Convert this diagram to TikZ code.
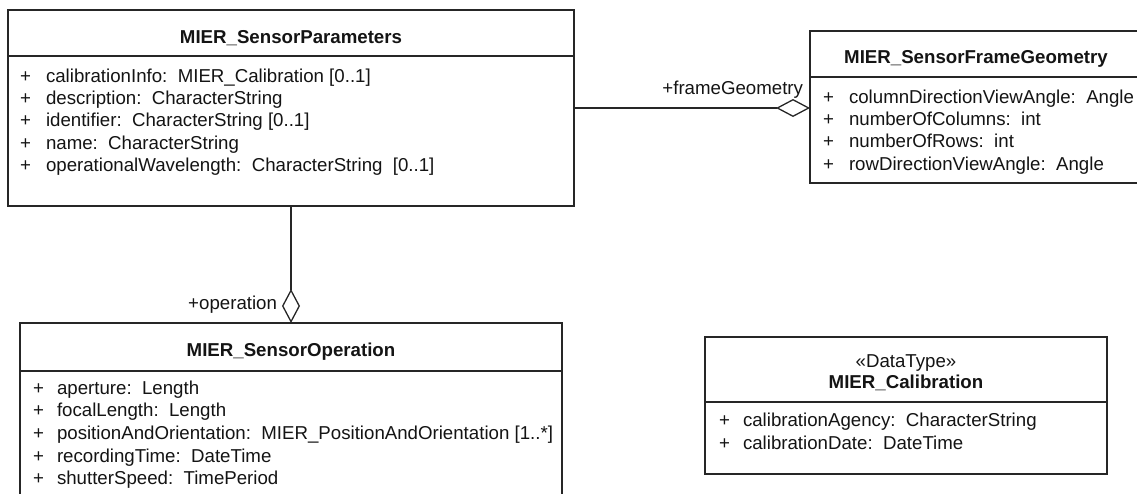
\documentclass[tikz,border=0pt]{standalone}
\usepackage{fontspec}
\setmainfont{Liberation Sans}
\usetikzlibrary{arrows.meta}
\definecolor{ink}{HTML}{141414}
\begin{document}
\begin{tikzpicture}[x=1pt,y=-1pt,
  every node/.style={inner sep=0pt,outer sep=0pt},
  txt/.style={font=\fontsize{18.67}{22.4}\selectfont,text=ink},
  attr/.style={txt,anchor=base west},
  title/.style={txt,font=\fontsize{18.67}{22.4}\selectfont\bfseries,anchor=base},
  stereo/.style={txt,anchor=base},
  lbl/.style={txt,anchor=base east},
  classbox/.style={draw=black!85,line width=1.3pt,fill=white,anchor=north west},
  sep/.style={draw=black!85,line width=1.3pt},
  agg/.style={draw=black!85,line width=1.3pt,-{Diamond[open,length=34pt,width=18pt,line width=1.3pt]}}
]
\useasboundingbox (0,0) rectangle (1137,493);
\clip (0,0) rectangle (1137,493);

% MIER_SensorParameters
\node[classbox,minimum width=566pt,minimum height=196pt] (sp) at (8,10) {};
\draw[sep] (sp.west |- 0,56) -- (sp.east |- 0,56);
\node[title] (spt) at (291,43.5) {MIER\_SensorParameters};
\node[attr] (sp1p) at (20,82) {+};
\node[attr] (sp1) at (46,82) {calibrationInfo:\ \ MIER\_Calibration [0..1]};
\node[attr] (sp2p) at (20,104.4) {+};
\node[attr] (sp2) at (46,104.4) {description:\ \ CharacterString};
\node[attr] (sp3p) at (20,126.8) {+};
\node[attr] (sp3) at (46,126.8) {identifier:\ \ CharacterString [0..1]};
\node[attr] (sp4p) at (20,149.2) {+};
\node[attr] (sp4) at (46,149.2) {name:\ \ CharacterString};
\node[attr] (sp5p) at (20,171.6) {+};
\node[attr] (sp5) at (46,171.6) {operationalWavelength:\ \ CharacterString\ \ [0..1]};

% MIER_SensorFrameGeometry
\node[classbox,minimum width=332pt,minimum height=152pt] (fg) at (810,31) {};
\draw[sep] (fg.west |- 0,77) -- (fg.east |- 0,77);
\node[title] (fgt) at (976,63.5) {MIER\_SensorFrameGeometry};
\node[attr] (fg1p) at (823,103) {+};
\node[attr] (fg1) at (849,103) {columnDirectionViewAngle:\ \ Angle};
\node[attr] (fg2p) at (823,125.4) {+};
\node[attr] (fg2) at (849,125.4) {numberOfColumns:\ \ int};
\node[attr] (fg3p) at (823,147.8) {+};
\node[attr] (fg3) at (849,147.8) {numberOfRows:\ \ int};
\node[attr] (fg4p) at (823,170.2) {+};
\node[attr] (fg4) at (849,170.2) {rowDirectionViewAngle:\ \ Angle};

% MIER_SensorOperation
\node[classbox,minimum width=542pt,minimum height=200pt] (sop) at (20,323) {};
\draw[sep] (sop.west |- 0,371) -- (sop.east |- 0,371);
\node[title] (sopt) at (291,356.5) {MIER\_SensorOperation};
\node[attr] (so1p) at (33,394) {+};
\node[attr] (so1) at (57,394) {aperture:\ \ Length};
\node[attr] (so2p) at (33,416.7) {+};
\node[attr] (so2) at (57,416.7) {focalLength:\ \ Length};
\node[attr] (so3p) at (33,439.3) {+};
\node[attr] (so3) at (57,439.3) {positionAndOrientation:\ \ MIER\_PositionAndOrientation [1..*]};
\node[attr] (so4p) at (33,462) {+};
\node[attr] (so4) at (57,462) {recordingTime:\ \ DateTime};
\node[attr] (so5p) at (33,484.6) {+};
\node[attr] (so5) at (57,484.6) {shutterSpeed:\ \ TimePeriod};

% MIER_Calibration
\node[classbox,minimum width=402pt,minimum height=137pt] (cal) at (705,337) {};
\draw[sep] (cal.west |- 0,402) -- (cal.east |- 0,402);
\node[stereo] (calst) at (906,367) {«DataType»};
\node[title] (calt) at (906,388.5) {MIER\_Calibration};
\node[attr] (ca1p) at (719,426) {+};
\node[attr] (ca1) at (743,426) {calibrationAgency:\ \ CharacterString};
\node[attr] (ca2p) at (719,449) {+};
\node[attr] (ca2) at (743,449) {calibrationDate:\ \ DateTime};

% associations
\draw[agg] (sp.east) -- (sp.east -| fg.west);
\node[lbl] (fgl) at (803,94) {+frameGeometry};
\draw[agg] (sop.north |- sp.south) -- (sop.north);
\node[lbl] (sol) at (277,309) {+operation};
\end{tikzpicture}
\end{document}
